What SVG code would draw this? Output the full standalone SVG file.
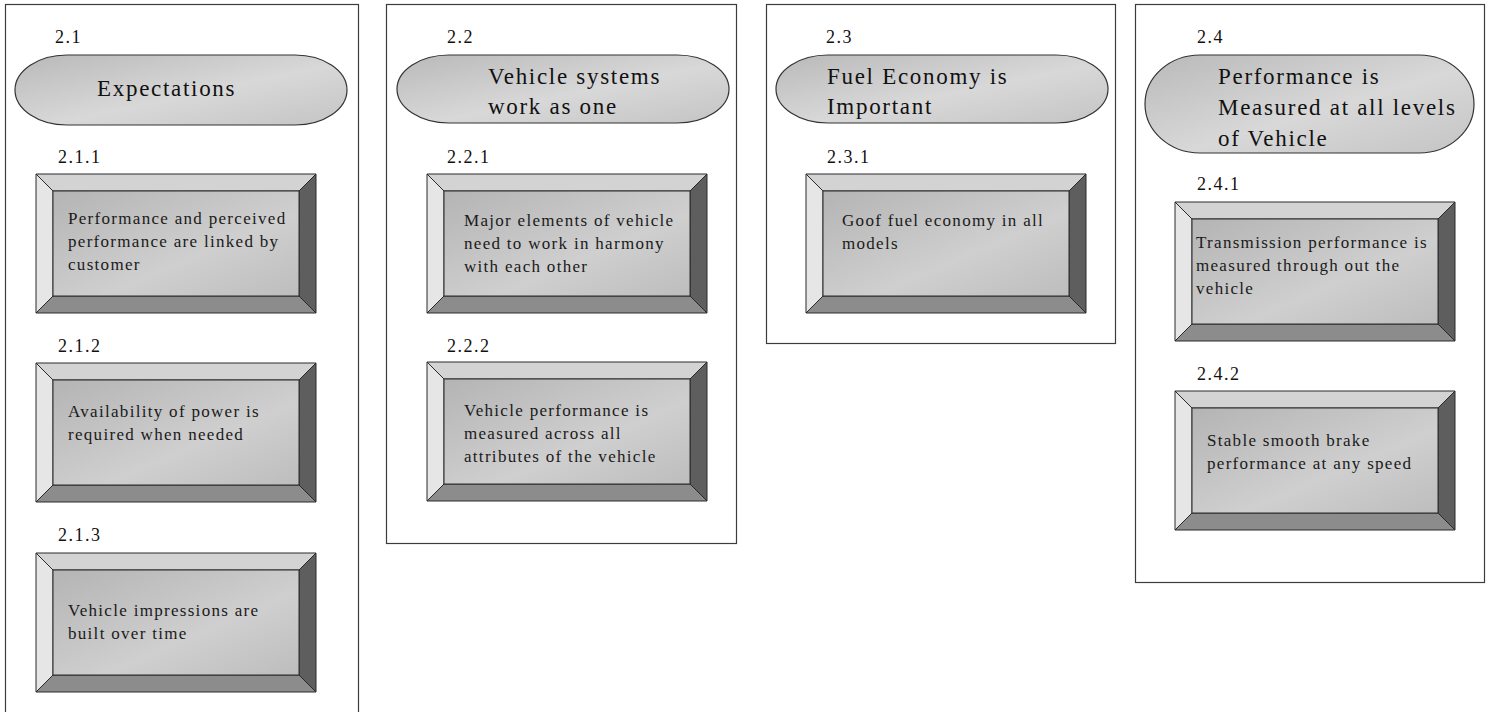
<svg xmlns="http://www.w3.org/2000/svg" width="1491" height="712" viewBox="0 0 1491 712">
<style>
.panel{fill:#fff;stroke:#3c3c3c;stroke-width:1.2}
.cap{fill:url(#capg);stroke:#333;stroke-width:1.2}
text{font-family:"Liberation Serif","Times New Roman","DejaVu Serif",serif}
.num{font-size:18px;letter-spacing:1.5px;fill:#111}
.ct{font-size:23px;letter-spacing:1.7px;fill:#111}
.bt{font-size:17px;letter-spacing:1.3px;fill:#1a1a1a}
.bv{stroke:#2a2a2a;stroke-width:1;stroke-linejoin:miter}
</style>
<defs>
<linearGradient id="capg" x1="0" y1="0" x2="1" y2="1">
<stop offset="0" stop-color="#b9b9b9"/>
<stop offset="0.55" stop-color="#d8d8d8"/>
<stop offset="1" stop-color="#c4c4c4"/>
</linearGradient>
<linearGradient id="faceg" x1="0" y1="0" x2="1" y2="1">
<stop offset="0" stop-color="#b4b4b4"/>
<stop offset="0.6" stop-color="#cfcfcf"/>
<stop offset="1" stop-color="#bdbdbd"/>
</linearGradient>
<g id="bevel">
<polygon class="bv" fill="#d3d3d3" points="0,0 280,0 263,17 17,17"/>
<polygon class="bv" fill="#e6e6e6" points="0,0 17,17 17,122 0,139"/>
<polygon class="bv" fill="#5e5e5e" points="280,0 280,139 263,122 263,17"/>
<polygon class="bv" fill="#8c8c8c" points="0,139 17,122 263,122 280,139"/>
<rect class="bv" fill="url(#faceg)" x="17" y="17" width="246" height="105"/>
</g>
</defs>

<g id="panels">
<rect class="panel" x="5.5" y="4.5" width="353" height="720"/>
<rect class="panel" x="386.5" y="4.5" width="350" height="539"/>
<rect class="panel" x="766.5" y="4.5" width="349" height="339"/>
<rect class="panel" x="1135.5" y="4.5" width="349" height="578"/>
</g>

<g id="connectors"></g>

<g id="n2_1">
<text class="num" x="55" y="43" font-family="Liberation Serif, serif">2.1</text>
<rect class="cap" x="15" y="55" width="332" height="70" rx="52" ry="35"/>
<text class="ct" x="97" y="96" font-family="Liberation Serif, serif">Expectations</text>
</g>
<g id="n2_1_1">
<text class="num" x="58" y="163">2.1.1</text>
<use href="#bevel" transform="translate(36,174)"/>
<text class="bt" x="68" y="224">Performance and perceived</text>
<text class="bt" x="68" y="247">performance are linked by</text>
<text class="bt" x="68" y="270">customer</text>
</g>
<g id="n2_1_2">
<text class="num" x="58" y="352">2.1.2</text>
<use href="#bevel" transform="translate(36,363)"/>
<text class="bt" x="68" y="417">Availability of power is</text>
<text class="bt" x="68" y="440">required when needed</text>
</g>
<g id="n2_1_3">
<text class="num" x="58" y="541">2.1.3</text>
<use href="#bevel" transform="translate(36,553)"/>
<text class="bt" x="68" y="616">Vehicle impressions are</text>
<text class="bt" x="68" y="639">built over time</text>
</g>

<g id="n2_2">
<text class="num" x="447" y="43">2.2</text>
<rect class="cap" x="397" y="55" width="332" height="68" rx="52" ry="34"/>
<text class="ct" x="488" y="84">Vehicle systems</text>
<text class="ct" x="488" y="114">work as one</text>
</g>
<g id="n2_2_1">
<text class="num" x="447" y="163">2.2.1</text>
<use href="#bevel" transform="translate(427,174)"/>
<text class="bt" x="464" y="226">Major elements of vehicle</text>
<text class="bt" x="464" y="249">need to work in harmony</text>
<text class="bt" x="464" y="272">with each other</text>
</g>
<g id="n2_2_2">
<text class="num" x="447" y="352">2.2.2</text>
<use href="#bevel" transform="translate(427,362)"/>
<text class="bt" x="464" y="416">Vehicle performance is</text>
<text class="bt" x="464" y="439">measured across all</text>
<text class="bt" x="464" y="462">attributes of the vehicle</text>
</g>

<g id="n2_3">
<text class="num" x="826" y="43">2.3</text>
<rect class="cap" x="776" y="55" width="332" height="68" rx="52" ry="34"/>
<text class="ct" x="827" y="84">Fuel Economy is</text>
<text class="ct" x="827" y="114">Important</text>
</g>
<g id="n2_3_1">
<text class="num" x="827" y="163">2.3.1</text>
<use href="#bevel" transform="translate(806,174)"/>
<text class="bt" x="842" y="226">Goof fuel economy in all</text>
<text class="bt" x="842" y="249">models</text>
</g>

<g id="n2_4">
<text class="num" x="1197" y="43">2.4</text>
<rect class="cap" x="1145" y="55" width="329" height="98" rx="55" ry="49"/>
<text class="ct" x="1218" y="84">Performance is</text>
<text class="ct" x="1218" y="115">Measured at all levels</text>
<text class="ct" x="1218" y="146">of Vehicle</text>
</g>
<g id="n2_4_1">
<text class="num" x="1197" y="190">2.4.1</text>
<use href="#bevel" transform="translate(1175,202)"/>
<text class="bt" x="1196" y="248">Transmission performance is</text>
<text class="bt" x="1196" y="271">measured through out the</text>
<text class="bt" x="1196" y="294">vehicle</text>
</g>
<g id="n2_4_2">
<text class="num" x="1197" y="380">2.4.2</text>
<use href="#bevel" transform="translate(1175,391)"/>
<text class="bt" x="1207" y="446">Stable smooth brake</text>
<text class="bt" x="1207" y="469">performance at any speed</text>
</g>
</svg>
